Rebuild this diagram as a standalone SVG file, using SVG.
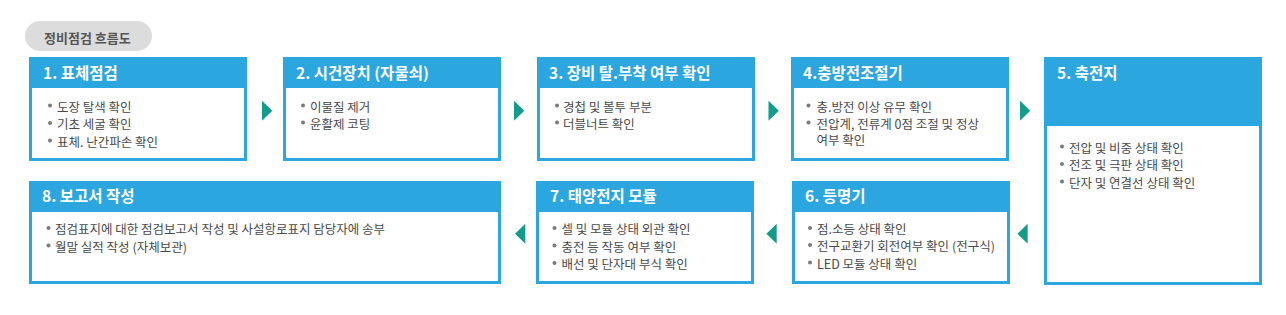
<svg xmlns="http://www.w3.org/2000/svg" width="1286" height="315" viewBox="0 0 1286 315">
<style>
text{font-family:"Noto Sans CJK KR","Noto Sans",sans-serif;}
.frame{fill:#2ba6de;}
.inner{fill:#ffffff;}
.title{fill:#ffffff;font-size:15.5px;font-weight:bold;}
.body{fill:#4a4a4a;font-size:12.5px;}
.dot{fill:#7a7a7a;}
.arrow{fill:#139c8b;}
.pill{fill:#dcdcdc;}
.pilltext{fill:#555555;font-size:13px;font-weight:bold;}
</style>
<rect width="1286" height="315" fill="#ffffff"/>
<g id="label">
<rect class="pill" x="25" y="21" width="127" height="30" rx="15"/>
<text class="pilltext" x="44" y="42.5">정비점검 흐름도</text>
</g>
<g id="step1">
<rect class="frame" x="29" y="57" width="218" height="104"/>
<rect class="inner" x="32" y="88" width="212" height="70"/>
<text class="title" x="43" y="79">1. 표체점검</text>
<circle class="dot" cx="50" cy="105.5" r="2"/><text class="body" x="57" y="111.5">도장 탈색 확인</text>
<circle class="dot" cx="50" cy="123" r="2"/><text class="body" x="57" y="129">기초 세굴 확인</text>
<circle class="dot" cx="50" cy="140.5" r="2"/><text class="body" x="57" y="146.5">표체. 난간파손 확인</text>
</g>
<g id="step2">
<rect class="frame" x="283" y="57" width="218" height="104"/>
<rect class="inner" x="286" y="88" width="212" height="70"/>
<text class="title" x="296" y="79">2. 시건장치 (자물쇠)</text>
<circle class="dot" cx="303" cy="105.5" r="2"/><text class="body" x="310" y="111.5">이물질 제거</text>
<circle class="dot" cx="303" cy="122.5" r="2"/><text class="body" x="310" y="128.5">윤활제 코팅</text>
</g>
<g id="step3">
<rect class="frame" x="537" y="57" width="218" height="104"/>
<rect class="inner" x="540" y="88" width="212" height="70"/>
<text class="title" x="549" y="79">3. 장비 탈.부착 여부 확인</text>
<circle class="dot" cx="557" cy="105.5" r="2"/><text class="body" x="563" y="111.5">경첩 및 볼투 부분</text>
<circle class="dot" cx="557" cy="122.5" r="2"/><text class="body" x="563" y="128.5">더블너트 확인</text>
</g>
<g id="step4">
<rect class="frame" x="791" y="57" width="218" height="104"/>
<rect class="inner" x="794" y="88" width="212" height="70"/>
<text class="title" x="803" y="79">4.충방전조절기</text>
<circle class="dot" cx="808.5" cy="105.5" r="2"/><text class="body" x="816.5" y="111.5">충.방전 이상 유무 확인</text>
<circle class="dot" cx="808.5" cy="122.5" r="2"/><text class="body" x="816.5" y="128.5">전압계, 전류계 0점 조절 및 정상</text>
<text class="body" x="816.5" y="145">여부 확인</text>
</g>
<g id="step5">
<rect class="frame" x="1044" y="57" width="218" height="228"/>
<rect class="inner" x="1047" y="126" width="212" height="156"/>
<text class="title" x="1057" y="79">5. 축전지</text>
<circle class="dot" cx="1062" cy="146.5" r="2"/><text class="body" x="1069" y="152.5">전압 및 비중 상태 확인</text>
<circle class="dot" cx="1062" cy="164" r="2"/><text class="body" x="1069" y="170">전조 및 극판 상태 확인</text>
<circle class="dot" cx="1062" cy="181.5" r="2"/><text class="body" x="1069" y="187.5">단자 및 연결선 상태 확인</text>
</g>
<g id="step6">
<rect class="frame" x="792" y="181" width="218" height="103"/>
<rect class="inner" x="795" y="212" width="212" height="69"/>
<text class="title" x="805" y="202">6. 등명기</text>
<circle class="dot" cx="810" cy="228" r="2"/><text class="body" x="817" y="234">점.소등 상태 확인</text>
<circle class="dot" cx="810" cy="245" r="2"/><text class="body" x="817" y="251">전구교환기 회전여부 확인 (전구식)</text>
<circle class="dot" cx="810" cy="262.5" r="2"/><text class="body" x="817" y="268.5">LED 모듈 상태 확인</text>
</g>
<g id="step7">
<rect class="frame" x="536" y="181" width="218" height="103"/>
<rect class="inner" x="539" y="212" width="212" height="69"/>
<text class="title" x="550" y="202">7. 태양전지 모듈</text>
<circle class="dot" cx="554.5" cy="228" r="2"/><text class="body" x="561.5" y="234">셀 및 모듈 상태 외관 확인</text>
<circle class="dot" cx="554.5" cy="245.5" r="2"/><text class="body" x="561.5" y="251.5">충전 등 작동 여부 확인</text>
<circle class="dot" cx="554.5" cy="263" r="2"/><text class="body" x="561.5" y="269">배선 및 단자대 부식 확인</text>
</g>
<g id="step8">
<rect class="frame" x="29" y="181" width="472" height="103"/>
<rect class="inner" x="32" y="212" width="466" height="69"/>
<text class="title" x="42" y="202">8. 보고서 작성</text>
<circle class="dot" cx="48.5" cy="228" r="2"/><text class="body" x="55" y="234">점검표지에 대한 점검보고서 작성 및 사설항로표지 담당자에 송부</text>
<circle class="dot" cx="48.5" cy="245.5" r="2"/><text class="body" x="55" y="251.5">월말 실적 작성 (자체보관)</text>
</g>
<g id="connectors">
<polygon class="arrow" points="262,100.7 272.3,110.7 262,120.7"/>
<polygon class="arrow" points="514,100.7 524.3,110.7 514,120.7"/>
<polygon class="arrow" points="768.5,100.7 778.8,110.7 768.5,120.7"/>
<polygon class="arrow" points="1020,100.7 1030.3,110.7 1020,120.7"/>
<polygon class="arrow" points="1027.7,223.7 1017.4,233.7 1027.7,243.7"/>
<polygon class="arrow" points="776.7,223.7 766.4,233.7 776.7,243.7"/>
<polygon class="arrow" points="525.3,223.7 515,233.7 525.3,243.7"/>
</g>
</svg>
